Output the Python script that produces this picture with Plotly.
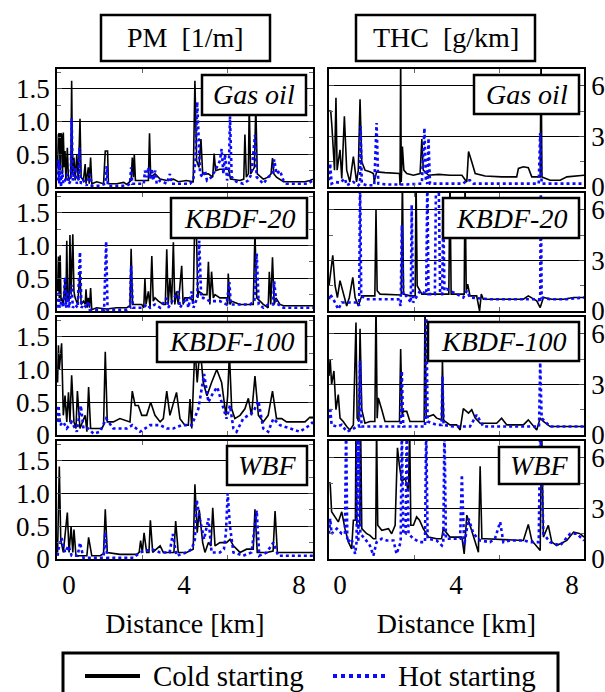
import plotly.graph_objects as go

# ---------------- data (distance km, value) ----------------
pm_gasoil_cold_x = [-0.40,-0.37,-0.34,-0.31,-0.29,-0.26,-0.23,-0.20,-0.17,-0.14,-0.11,-0.06,-0.02,0.06,0.09,0.12,0.17,0.21,0.27,0.32,0.38,0.42,0.50,0.56,0.59,0.67,0.70,0.75,0.79,0.96,1.20,1.26,1.34,1.37,1.66,1.90,2.01,2.16,2.20,2.24,2.27,2.31,2.50,2.76,2.80,2.84,2.99,3.17,3.40,3.63,3.80,4.09,4.32,4.38,4.44,4.52,4.59,4.65,4.85,5.00,5.05,5.10,5.25,5.55,5.62,5.95,6.08,6.12,6.17,6.24,6.27,6.32,6.45,6.50,6.55,6.76,6.93,7.03,7.08,7.13,7.22,7.34,7.46,7.80,8.21,8.38,8.49]
pm_gasoil_cold_y = [0.30,0.80,0.82,0.25,0.82,0.80,0.20,0.83,0.30,0.55,0.10,0.60,0.10,0.15,1.62,0.20,0.45,0.10,0.50,0.10,1.04,0.15,0.10,0.35,0.05,0.30,0.05,0.45,0.05,0.08,0.05,0.55,0.55,0.05,0.05,0.07,0.04,0.10,0.45,0.15,0.50,0.10,0.10,0.10,0.82,0.15,0.20,0.12,0.10,0.12,0.08,0.10,0.08,1.62,0.40,0.30,0.73,0.20,0.20,0.15,0.51,0.25,0.27,0.27,0.12,0.10,0.12,0.80,0.15,0.20,1.25,0.20,0.30,1.25,0.20,0.12,0.15,0.20,0.44,0.20,0.15,0.12,0.08,0.08,0.08,0.10,0.12]
pm_gasoil_hot_x = [-0.40,-0.37,-0.34,-0.31,-0.28,-0.24,-0.20,-0.14,-0.06,0.00,0.06,0.09,0.13,0.21,0.27,0.33,0.36,0.41,0.50,0.61,0.73,0.79,1.08,1.26,1.31,1.35,1.66,2.01,2.12,2.16,2.20,2.60,2.64,2.70,2.76,2.82,2.88,2.93,3.00,3.05,3.17,3.40,3.51,3.57,3.92,4.21,4.32,4.40,4.46,4.52,4.56,4.65,4.73,4.80,4.96,5.14,5.25,5.31,5.37,5.43,5.50,5.56,5.60,5.66,5.83,6.06,6.24,6.35,6.47,6.53,6.64,6.76,6.93,7.08,7.14,7.22,7.34,7.46,7.57,8.00,8.30,8.49]
pm_gasoil_hot_y = [0.10,0.42,0.05,0.35,0.00,0.25,0.05,0.10,0.20,0.05,0.10,1.05,0.10,0.30,0.05,0.10,0.60,0.05,0.10,0.02,0.20,0.02,0.02,0.05,0.32,0.02,0.02,0.02,0.05,0.30,0.05,0.05,0.25,0.15,0.30,0.12,0.28,0.10,0.25,0.05,0.10,0.05,0.20,0.05,0.05,0.05,0.10,0.40,1.30,0.60,0.20,0.15,0.25,0.10,0.15,0.30,0.40,0.58,0.20,0.50,0.10,0.20,1.08,0.15,0.08,0.05,0.10,0.20,0.79,0.15,0.10,0.05,0.15,0.20,0.42,0.20,0.25,0.10,0.05,0.05,0.05,0.10]

pm_kbdf20_cold_x = [-0.40,-0.37,-0.34,-0.31,-0.28,-0.26,-0.20,-0.14,-0.11,-0.08,-0.05,0.00,0.03,0.07,0.13,0.17,0.21,0.30,0.38,0.42,0.50,0.56,0.59,0.63,0.67,0.71,0.75,0.79,0.96,1.30,1.66,2.01,2.12,2.16,2.21,2.53,2.60,2.64,2.68,2.76,2.82,2.88,2.93,2.99,3.11,3.28,3.35,3.40,3.45,3.51,3.57,3.63,3.68,3.74,3.80,3.92,3.97,4.03,4.21,4.32,4.38,4.42,4.48,4.52,4.67,4.80,4.85,4.90,4.96,5.02,5.08,5.25,5.48,5.52,5.54,5.60,5.66,5.95,6.30,6.41,6.47,6.53,6.76,6.93,6.97,7.02,7.08,7.14,7.20,7.34,7.46,8.00,8.49]
pm_kbdf20_cold_y = [0.30,0.83,0.20,0.85,0.15,0.20,0.10,0.50,0.10,1.07,0.20,0.15,1.16,0.25,1.17,0.30,0.20,0.10,0.60,0.10,0.15,0.10,0.33,0.05,0.20,0.05,0.35,0.02,0.05,0.03,0.05,0.05,0.08,0.95,0.10,0.10,0.05,0.49,0.10,0.30,0.05,0.84,0.15,0.20,0.15,0.10,0.10,0.94,0.10,0.50,0.10,1.05,0.10,0.30,0.10,0.69,0.10,0.20,0.20,0.15,1.50,1.50,0.20,0.30,0.25,0.25,0.75,0.10,0.60,0.20,0.25,0.20,0.20,0.10,0.57,0.10,0.15,0.10,0.10,0.10,1.20,0.20,0.10,0.05,0.60,0.10,0.82,0.10,0.20,0.10,0.08,0.08,0.08]
pm_kbdf20_hot_x = [-0.40,-0.37,-0.33,-0.26,-0.20,-0.14,-0.10,-0.05,0.00,0.06,0.09,0.13,0.21,0.30,0.38,0.43,0.50,0.61,0.67,0.72,0.96,1.22,1.29,1.34,1.66,2.01,2.12,2.16,2.22,2.59,2.70,2.82,2.99,3.17,3.40,3.45,3.80,3.86,4.09,4.15,4.27,4.33,4.46,4.53,4.60,4.67,4.90,5.25,5.48,5.58,5.63,5.72,6.06,6.30,6.45,6.53,6.60,6.76,6.93,7.10,7.14,7.22,7.28,7.46,8.00,8.49]
pm_kbdf20_hot_y = [0.05,0.30,0.05,0.15,0.05,0.52,0.05,0.30,0.05,0.30,0.40,0.05,0.10,0.05,0.90,0.05,0.10,0.05,0.15,0.02,0.02,0.02,1.06,0.02,0.02,0.02,0.05,0.69,0.05,0.05,0.10,0.05,0.10,0.05,0.20,0.05,0.30,0.05,0.20,0.05,0.30,0.05,0.20,1.07,0.20,0.20,0.15,0.15,0.10,0.44,0.10,0.10,0.10,0.10,0.15,0.88,0.10,0.05,0.10,0.10,0.45,0.10,0.10,0.05,0.05,0.05]

pm_kbdf100_cold_x = [-0.40,-0.37,-0.34,-0.26,-0.20,-0.14,-0.08,-0.02,0.03,0.09,0.17,0.24,0.29,0.38,0.56,0.62,0.68,0.75,0.85,1.14,1.20,1.26,1.33,1.54,1.77,2.12,2.20,2.30,2.41,2.53,2.70,2.84,2.99,3.17,3.28,3.40,3.51,3.74,3.86,4.03,4.15,4.21,4.27,4.38,4.46,4.56,4.67,4.80,4.96,5.14,5.31,5.46,5.52,5.58,5.66,5.77,5.95,6.12,6.24,6.35,6.47,6.59,6.76,6.93,7.08,7.22,7.40,7.57,7.80,8.21,8.38,8.49]
pm_kbdf100_cold_y = [0.80,1.37,1.00,1.40,0.30,0.60,0.20,0.65,0.20,0.91,0.20,0.10,0.67,0.10,0.30,0.05,0.73,0.10,0.10,0.10,0.15,1.27,0.20,0.20,0.25,0.20,0.67,0.45,0.45,0.30,0.30,0.50,0.30,0.20,0.25,0.67,0.30,0.65,0.25,0.15,0.15,0.55,0.10,1.35,0.80,1.35,0.80,0.60,0.80,1.00,0.80,0.30,0.60,1.25,0.40,0.25,0.30,0.40,0.56,0.30,0.90,0.30,0.20,0.30,0.67,0.25,0.25,0.20,0.20,0.20,0.27,0.27]
pm_kbdf100_hot_x = [-0.40,-0.37,-0.31,-0.20,-0.08,0.09,0.27,0.41,0.50,0.67,0.85,1.08,1.29,1.54,2.01,2.20,2.47,2.82,3.17,3.40,3.63,3.92,4.27,4.50,4.70,4.85,5.02,5.16,5.31,5.48,5.60,5.72,5.83,6.06,6.41,6.59,6.76,6.93,7.11,7.34,7.69,8.03,8.38,8.49]
pm_kbdf100_hot_y = [0.20,0.45,0.15,0.20,0.10,0.20,0.05,0.45,0.10,0.10,0.02,0.05,0.25,0.10,0.10,0.15,0.05,0.15,0.15,0.10,0.10,0.15,0.15,0.40,0.93,0.50,0.65,0.73,0.50,0.25,0.45,0.10,0.05,0.25,0.35,0.52,0.10,0.05,0.25,0.15,0.10,0.05,0.15,0.20]

pm_wbf_cold_x = [-0.40,-0.34,-0.29,-0.20,-0.06,0.00,0.07,0.13,0.17,0.24,0.44,0.62,0.68,0.79,1.08,1.20,1.26,1.33,1.77,2.35,2.44,2.49,2.55,2.61,2.70,2.78,2.83,2.91,3.17,3.28,3.51,3.65,3.71,3.80,4.09,4.32,4.38,4.46,4.53,4.65,4.73,4.85,4.94,5.00,5.08,5.25,5.48,5.60,5.72,5.95,6.18,6.41,6.47,6.55,6.88,7.10,7.17,7.25,7.57,8.00,8.49]
pm_wbf_cold_y = [0.10,1.41,0.30,0.10,0.71,0.10,0.49,0.10,0.45,0.05,0.05,0.05,0.33,0.05,0.05,0.08,0.76,0.10,0.07,0.07,0.10,0.28,0.10,0.40,0.10,0.10,0.59,0.10,0.20,0.10,0.10,0.10,0.58,0.10,0.10,0.15,1.14,0.40,0.75,0.25,0.10,0.25,0.20,0.78,0.20,0.25,0.25,0.30,0.20,0.10,0.15,0.15,0.76,0.10,0.10,0.12,0.73,0.10,0.10,0.10,0.10]
pm_wbf_hot_x = [-0.40,-0.37,-0.26,-0.14,-0.02,0.09,0.30,0.38,0.50,0.85,1.20,1.26,1.33,1.77,2.24,2.47,2.88,3.17,3.50,3.61,3.74,4.09,4.27,4.38,4.44,4.56,4.70,4.85,4.96,5.25,5.39,5.46,5.52,5.60,5.72,6.06,6.35,6.53,6.62,6.88,7.11,7.28,7.69,8.49]
pm_wbf_hot_y = [0.05,0.15,0.32,0.10,0.20,0.05,0.05,0.25,0.02,0.02,0.02,0.41,0.02,0.02,0.02,0.10,0.15,0.10,0.10,0.38,0.05,0.10,0.15,0.30,0.90,0.60,0.30,0.62,0.10,0.10,0.15,0.40,1.00,0.50,0.10,0.05,0.10,0.74,0.05,0.10,0.25,0.05,0.05,0.05]

thc_gasoil_cold_x = [-0.38,-0.32,-0.28,-0.23,-0.19,-0.14,-0.10,-0.06,0.00,0.06,0.15,0.23,0.34,0.46,0.57,0.63,0.69,0.75,0.86,1.03,1.15,1.18,1.26,1.55,1.84,2.05,2.07,2.09,2.11,2.15,2.20,2.30,2.53,2.76,2.82,2.87,3.05,3.40,3.79,4.20,4.37,4.43,4.54,4.66,5.00,5.57,6.09,6.15,6.32,6.49,6.61,6.90,6.93,6.96,7.24,7.59,7.82,8.16,8.41]
thc_gasoil_cold_y = [4.5,4.5,3.6,2.0,1.0,5.3,1.0,1.5,2.2,0.5,4.2,1.0,0.3,1.8,0.3,1.0,5.2,1.5,1.0,0.9,0.8,0.3,0.9,0.85,0.8,0.8,0.1,8.0,0.3,2.4,1.0,0.8,0.7,0.8,2.85,1.0,0.7,0.75,0.7,0.7,0.3,2.1,1.5,0.8,0.65,0.6,0.6,1.1,1.2,1.15,0.6,0.6,8.0,0.6,0.4,0.4,0.6,0.65,0.7]
thc_gasoil_hot_x = [-0.38,-0.34,-0.29,-0.17,0.00,0.17,0.23,0.46,0.63,0.69,0.71,0.75,0.92,1.18,1.26,1.32,1.61,2.30,2.82,2.91,2.96,3.01,3.05,3.10,3.60,4.25,4.37,4.48,4.60,5.63,6.55,6.85,6.90,6.95,7.47,8.41]
thc_gasoil_hot_y = [0.4,1.4,0.2,0.3,0.25,0.5,0.1,0.3,0.1,0.2,3.6,0.2,0.1,0.1,3.8,0.2,0.15,0.15,0.2,3.5,0.3,0.2,2.9,0.2,0.2,0.2,0.4,0.4,0.2,0.2,0.2,0.2,3.2,0.2,0.2,0.2]

thc_kbdf20_cold_x = [-0.38,-0.34,-0.25,-0.17,-0.09,0.00,0.11,0.23,0.32,0.44,0.52,0.63,0.75,1.03,1.20,1.24,1.28,1.38,1.84,2.11,2.15,2.19,2.41,2.59,2.62,2.66,2.82,3.30,3.75,3.79,3.83,4.28,4.31,4.35,4.40,4.48,4.71,4.81,4.87,4.94,5.63,6.32,6.49,6.78,6.90,7.01,7.30,7.70,8.05,8.41]
thc_kbdf20_cold_y = [1.5,2.0,3.3,1.5,0.8,1.8,1.0,0.3,0.8,2.0,0.8,0.3,0.9,0.9,0.9,6.0,1.2,1.0,0.95,0.95,8.0,1.0,0.9,0.9,8.0,1.5,1.0,1.0,1.0,8.0,1.0,1.0,8.0,1.2,1.6,0.9,0.9,0.0,1.0,0.7,0.7,0.7,0.9,0.6,0.2,0.8,0.7,0.7,0.8,0.8]
thc_kbdf20_hot_x = [-0.38,-0.34,-0.23,-0.06,0.06,0.34,0.63,0.66,0.69,0.73,0.92,1.55,2.01,2.09,2.13,2.18,2.30,2.44,2.47,2.52,2.76,2.97,3.01,3.05,3.20,3.27,3.31,3.36,3.40,3.45,3.52,3.56,3.60,3.68,4.02,4.25,4.37,4.48,5.17,6.09,6.85,6.90,6.92,6.95,7.24,7.82,8.41]
thc_kbdf20_hot_y = [0.7,1.0,0.7,0.1,0.5,0.5,0.5,0.3,8.0,0.9,0.7,0.7,0.7,0.3,5.1,0.9,0.9,0.5,6.3,0.5,1.2,1.0,8.0,1.0,1.0,1.0,8.0,8.0,8.0,1.0,1.0,5.8,1.2,1.3,1.0,0.8,1.2,0.8,0.7,0.7,0.7,0.5,8.0,0.8,0.7,0.7,0.8]

thc_kbdf100_cold_x = [-0.38,-0.34,-0.29,-0.21,-0.14,-0.06,0.00,0.11,0.23,0.34,0.46,0.55,0.59,0.65,0.69,0.75,0.86,1.03,1.20,1.24,1.28,1.32,1.44,1.55,1.95,2.05,2.09,2.14,2.18,2.30,2.41,2.76,2.90,2.93,2.97,3.05,3.22,3.33,3.50,3.53,3.57,3.62,3.79,4.02,4.14,4.25,4.43,4.54,4.66,4.83,5.40,5.57,5.75,6.32,6.49,6.78,6.90,7.01,7.24,7.70,8.41]
thc_kbdf100_cold_y = [3.5,4.5,3.0,3.8,1.5,2.4,1.0,0.8,0.5,0.3,0.6,6.67,1.0,0.8,6.3,1.5,0.7,0.8,0.8,8.0,1.0,2.2,1.5,0.8,0.8,0.8,5.1,1.2,1.4,1.4,0.8,0.8,0.8,8.0,1.0,1.1,1.2,1.0,0.9,4.5,0.9,0.8,0.6,0.6,0.3,1.57,1.3,1.5,1.0,0.7,0.7,1.0,0.6,0.6,0.9,0.3,1.0,0.8,0.5,0.5,0.5]
thc_kbdf100_hot_x = [-0.38,-0.34,-0.29,-0.11,0.06,0.23,0.40,0.57,0.65,0.69,0.74,0.92,1.95,2.09,2.13,2.18,2.36,2.76,2.93,2.97,3.02,3.33,3.50,3.53,3.57,3.91,4.48,4.71,4.94,6.78,6.86,6.90,6.95,7.24,7.82,8.41]
thc_kbdf100_hot_y = [1.0,1.63,0.6,0.5,0.6,0.2,0.3,0.5,0.5,4.4,0.5,0.5,0.5,0.5,3.8,0.5,0.5,0.5,0.5,8.0,0.8,0.6,0.6,3.5,0.6,0.5,0.5,1.2,0.5,0.5,0.5,4.3,1.0,0.5,0.5,0.5]

thc_wbf_cold_x = [-0.38,-0.34,-0.29,-0.17,-0.06,0.06,0.17,0.29,0.40,0.46,0.53,0.55,0.58,0.68,0.71,0.75,0.92,1.03,1.15,1.23,1.26,1.30,1.44,1.67,1.78,1.90,1.98,2.05,2.13,2.24,2.36,2.40,2.44,2.53,2.64,2.74,2.87,3.05,3.33,3.50,3.56,3.79,4.02,4.20,4.28,4.37,4.48,4.60,4.77,4.83,4.89,5.00,5.57,6.32,6.49,6.61,6.90,6.95,7.01,7.18,7.30,7.47,7.82,8.05,8.28,8.41]
thc_wbf_cold_y = [4.5,4.5,2.8,2.5,2.2,2.8,1.8,1.0,0.6,2.3,2.3,8.0,2.0,2.0,8.0,1.8,1.5,1.4,1.2,1.2,8.0,2.0,1.7,1.8,1.5,2.0,6.6,5.5,4.6,4.8,4.0,8.0,2.0,2.0,2.5,2.3,1.8,1.3,1.2,1.2,1.8,1.3,1.3,1.3,0.3,2.6,2.0,1.3,0.4,5.5,1.2,1.2,1.15,1.1,2.05,1.1,0.5,8.0,1.3,2.0,1.0,0.8,1.1,1.6,1.5,1.3]
thc_wbf_hot_x = [-0.38,-0.34,-0.29,-0.11,0.06,0.17,0.21,0.25,0.40,0.52,0.57,0.60,0.63,0.66,0.70,0.86,1.03,1.15,1.26,1.44,1.61,1.84,1.95,2.09,2.13,2.18,2.26,2.30,2.36,2.53,2.76,2.93,2.97,3.02,3.33,3.51,3.56,3.60,3.65,3.91,4.14,4.20,4.28,4.43,4.60,4.83,5.17,5.34,5.52,5.63,5.86,6.32,6.55,6.85,6.90,7.01,7.24,7.59,7.93,8.16,8.41]
thc_wbf_hot_y = [1.5,2.4,1.5,1.8,1.5,1.5,8.0,1.0,1.2,0.3,1.0,8.0,1.0,8.0,1.5,1.2,0.8,0.2,1.0,1.2,1.1,1.1,0.3,1.0,8.0,1.5,1.5,8.0,1.5,1.2,1.0,1.0,8.0,1.2,1.1,0.8,1.0,8.0,1.2,1.2,1.2,5.0,0.8,2.4,1.5,1.1,1.0,1.2,2.2,1.0,1.1,1.1,1.0,1.0,8.0,1.5,1.0,0.8,1.5,1.5,1.1]

fuels = ["Gas oil", "KBDF-20", "KBDF-100", "WBF"]
series_names = ["Cold starting", "Hot starting"]
pm_cold = [(pm_gasoil_cold_x, pm_gasoil_cold_y), (pm_kbdf20_cold_x, pm_kbdf20_cold_y),
           (pm_kbdf100_cold_x, pm_kbdf100_cold_y), (pm_wbf_cold_x, pm_wbf_cold_y)]
pm_hot = [(pm_gasoil_hot_x, pm_gasoil_hot_y), (pm_kbdf20_hot_x, pm_kbdf20_hot_y),
          (pm_kbdf100_hot_x, pm_kbdf100_hot_y), (pm_wbf_hot_x, pm_wbf_hot_y)]
thc_cold = [(thc_gasoil_cold_x, thc_gasoil_cold_y), (thc_kbdf20_cold_x, thc_kbdf20_cold_y),
            (thc_kbdf100_cold_x, thc_kbdf100_cold_y), (thc_wbf_cold_x, thc_wbf_cold_y)]
thc_hot = [(thc_gasoil_hot_x, thc_gasoil_hot_y), (thc_kbdf20_hot_x, thc_kbdf20_hot_y),
           (thc_kbdf100_hot_x, thc_kbdf100_hot_y), (thc_wbf_hot_x, thc_wbf_hot_y)]

x_tickvals = [0, 4, 8]
x_ticktext = ["0", "4", "8"]
pm_tickvals = [0, 0.5, 1.0, 1.5]
pm_ticktext = ["0", "0.5", "1.0", "1.5"]
thc_tickvals = [0, 3, 6]
thc_ticktext = ["0", "3", "6"]

# ---------------- layout helpers ----------------
W, H = 605, 692
FONT = "Liberation Serif, Times New Roman, Times, DejaVu Serif, serif"
BLUE = "#0a0aff"
FS = 28
TFS = 27


def fx(p):
    return p / W


def fy(p):
    return 1 - p / H


rows_px = [(69, 187), (193, 311), (317, 435), (441, 559)]
cols_px = [(57, 313), (329, 584)]
xranges = [[-0.42, 8.49], [-0.38, 8.41]]

fig = go.Figure()
layout = dict(width=W, height=H, autosize=False, margin=dict(l=0, r=0, t=0, b=0, autoexpand=False),
              paper_bgcolor="white", plot_bgcolor="white",
              font=dict(family=FONT, size=FS, color="black"),
              showlegend=False)
shapes = []
annotations = []

idx = 0
for c in range(2):
    for r in range(4):
        idx += 1
        xa = "xaxis" if idx == 1 else f"xaxis{idx}"
        ya = "yaxis" if idx == 1 else f"yaxis{idx}"
        xr = "x" if idx == 1 else f"x{idx}"
        yr = "y" if idx == 1 else f"y{idx}"
        bottom = (r == 3)
        layout[xa] = dict(
            domain=[fx(cols_px[c][0]), fx(cols_px[c][1])], anchor=yr, automargin=False,
            range=xranges[c], showgrid=False, zeroline=False,
            showline=True, linecolor="black", linewidth=1.5, mirror="allticks",
            tickmode="array", tickvals=x_tickvals, ticktext=x_ticktext,
            ticks="", showticklabels=bottom, ticklabelstandoff=1,
            tickfont=dict(family=FONT, size=TFS, color="black"),
            minor=dict(tickmode="array",
                       tickvals=[xranges[c][0] + (xranges[c][1] - xranges[c][0]) * k / 3 for k in (1, 2)],
                       ticks="inside", ticklen=4, tickcolor="#666", showgrid=False),
        )
        if bottom:
            layout[xa]["title"] = dict(text="Distance [km]", font=dict(family=FONT, size=FS), standoff=14)
        if c == 0:
            yrng, tv, tt, mdt, side = [0, 1.8], pm_tickvals, pm_ticktext, 0.25, "left"
        else:
            yrng, tv, tt, mdt, side = [0, 7], thc_tickvals, thc_ticktext, 1.5, "right"
        layout[ya] = dict(
            domain=[fy(rows_px[r][1]), fy(rows_px[r][0])], anchor=xr, side=side, automargin=False,
            range=yrng, tickmode="array", tickvals=tv, ticktext=tt,
            showgrid=True, gridcolor="black", gridwidth=1, zeroline=False,
            showline=True, linecolor="black", linewidth=1.5, mirror="allticks",
            ticks="inside", ticklen=5, tickcolor="#444", ticklabeloverflow="allow",
            tickfont=dict(family=FONT, size=TFS, color="black"),
            minor=dict(dtick=mdt, tick0=0, ticks="inside", ticklen=4, tickcolor="#666", showgrid=False),
        )
        cold = pm_cold[r] if c == 0 else thc_cold[r]
        hot = pm_hot[r] if c == 0 else thc_hot[r]
        fig.add_trace(go.Scatter(x=cold[0], y=cold[1], mode="lines", name=series_names[0],
                                 line=dict(color="black", width=1.6), xaxis=xr, yaxis=yr))
        fig.add_trace(go.Scatter(x=hot[0], y=hot[1], mode="lines", name=series_names[1],
                                 line=dict(color=BLUE, width=2.6, dash="dot"), xaxis=xr, yaxis=yr))

# fuel label boxes (pixel boxes)
label_boxes = {
    (0, 0): (202, 75, 306, 115), (0, 1): (474, 75, 579, 114),
    (1, 0): (171, 198, 307, 238), (1, 1): (443, 198, 579, 238),
    (2, 0): (157, 322, 306, 362), (2, 1): (428, 322, 579, 361),
    (3, 0): (227, 446, 307, 485), (3, 1): (499, 447, 579, 484),
}
for (r, c), (x0, y0, x1, y1) in label_boxes.items():
    shapes.append(dict(type="rect", xref="paper", yref="paper", x0=fx(x0), x1=fx(x1), y0=fy(y1), y1=fy(y0),
                       line=dict(color="black", width=2.5), fillcolor="white", layer="above"))
    annotations.append(dict(xref="paper", yref="paper", x=fx((x0 + x1) / 2), y=fy((y0 + y1) / 2),
                            text=f"<i>{fuels[r]}</i>", showarrow=False, xanchor="center", yanchor="middle",
                            font=dict(family=FONT, size=FS, color="black")))

# column title boxes
for (x0, y0, x1, y1), txt in [((101, 15, 270, 61), "PM&nbsp; [1/m]"), ((356, 15, 535, 61), "THC&nbsp; [g/km]")]:
    shapes.append(dict(type="rect", xref="paper", yref="paper", x0=fx(x0), x1=fx(x1), y0=fy(y1), y1=fy(y0),
                       line=dict(color="black", width=2.5), fillcolor="white"))
    annotations.append(dict(xref="paper", yref="paper", x=fx((x0 + x1) / 2), y=fy((y0 + y1) / 2),
                            text=txt, showarrow=False, xanchor="center", yanchor="middle",
                            font=dict(family=FONT, size=FS, color="black")))

# legend (box, sample lines, labels)
shapes.append(dict(type="rect", xref="paper", yref="paper", x0=fx(63), x1=fx(558), y0=fy(700), y1=fy(653),
                   line=dict(color="black", width=3), fillcolor="white"))
shapes.append(dict(type="line", xref="paper", yref="paper", x0=fx(85), x1=fx(140), y0=fy(676), y1=fy(676),
                   line=dict(color="black", width=4)))
shapes.append(dict(type="line", xref="paper", yref="paper", x0=fx(333), x1=fx(386), y0=fy(676), y1=fy(676),
                   line=dict(color=BLUE, width=4, dash="dot")))
annotations.append(dict(xref="paper", yref="paper", x=fx(151), y=fy(676), text=series_names[0],
                        showarrow=False, xanchor="left", yanchor="middle",
                        font=dict(family=FONT, size=FS + 1, color="black")))
annotations.append(dict(xref="paper", yref="paper", x=fx(396), y=fy(676), text=series_names[1],
                        showarrow=False, xanchor="left", yanchor="middle",
                        font=dict(family=FONT, size=FS + 1, color="black")))

layout["shapes"] = shapes
layout["annotations"] = annotations
fig.update_layout(**layout)

PAGE_FIX = (
    "var h=document.documentElement.style, b=document.body.style;"
    "h.margin='0';h.padding='0';h.height='692px';h.overflow='hidden';"
    "b.margin='0';b.padding='0';b.height='692px';b.overflow='hidden';"
)
fig.write_html("out.html", config={"displayModeBar": False}, post_script=PAGE_FIX)
